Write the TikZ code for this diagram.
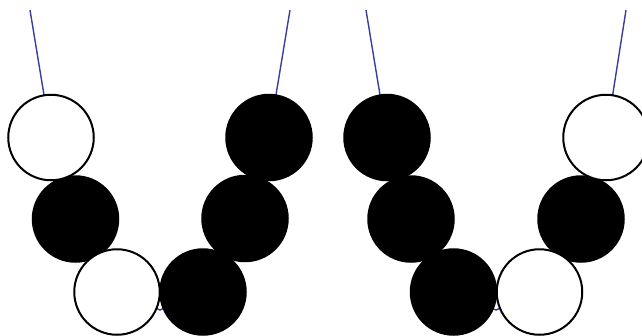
\documentclass[tikz,border=0pt]{standalone}
\begin{document}
\begin{tikzpicture}[x=1pt,y=-1pt,
  bead/.style={circle,inner sep=0pt,minimum size=85.5pt,line width=2pt,draw=black},
  blackbead/.style={bead,fill=black},
  whitebead/.style={bead,fill=white},
  thread/.style={line width=1.4pt,draw={rgb,255:red,60;green,60;blue,160}}]
\useasboundingbox (0,0) rectangle (642,335);
\coordinate (LtopA) at (30,10);
\coordinate (LtopB) at (290,10);
\coordinate (Lbot) at (160,310);
\coordinate (Ra) at (366,10);
\coordinate (Rb) at (626,10);
\coordinate (Rbot) at (496,310);
\coordinate (L1c) at (51,137.5);
\coordinate (L2c) at (75.5,219);
\coordinate (L3c) at (117,292);
\coordinate (L4c) at (203,292);
\coordinate (L5c) at (245,218.5);
\coordinate (L6c) at (269,137.5);
\coordinate (R1c) at (387,137.5);
\coordinate (R2c) at (411,219);
\coordinate (R3c) at (453.5,292);
\coordinate (R4c) at (539.5,292);
\coordinate (R5c) at (581,219);
\coordinate (R6c) at (606,137.5);
\draw[thread] (LtopA) -- (L1c) -- (L2c) -- (L3c) -- (Lbot) -- (L4c) -- (L5c) -- (L6c) -- (LtopB);
\draw[thread] (Ra) -- (R1c) -- (R2c) -- (R3c) -- (Rbot) -- (R4c) -- (R5c) -- (R6c) -- (Rb);
% black beads
\node[blackbead] (L2) at (L2c) {};
\node[blackbead] (L4) at (L4c) {};
\node[blackbead] (L5) at (L5c) {};
\node[blackbead] (L6) at (L6c) {};
\node[blackbead] (R1) at (R1c) {};
\node[blackbead] (R2) at (R2c) {};
\node[blackbead] (R3) at (R3c) {};
\node[blackbead] (R5) at (R5c) {};
% white beads
\node[whitebead] (L1) at (L1c) {};
\node[whitebead] (L3) at (L3c) {};
\node[whitebead] (R4) at (R4c) {};
\node[whitebead] (R6) at (R6c) {};
\end{tikzpicture}
\end{document}
